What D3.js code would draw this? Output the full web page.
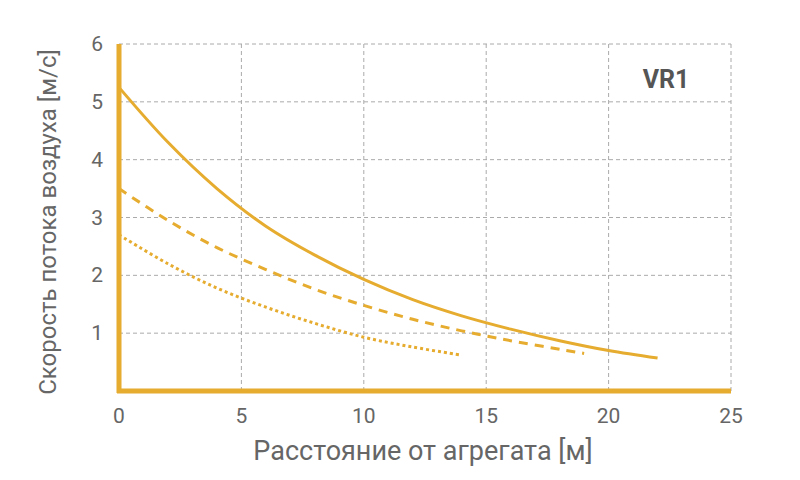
<!DOCTYPE html>
<html><head><meta charset="utf-8">
<script src="https://cdn.jsdelivr.net/npm/d3@7"></script>
<style>body{margin:0;background:#fff}</style>
</head><body>
<svg id="chart" width="800" height="480"></svg>
<script>
var xTicks = [0, 5, 10, 15, 20, 25];
var yTicks = [1, 2, 3, 4, 5, 6];
var solidX = [0, 2, 4, 6, 8, 10, 12, 14, 16, 18, 20, 22];
var solidY = [5.25, 4.3, 3.5, 2.85, 2.35, 1.93, 1.58, 1.3, 1.07, 0.87, 0.7, 0.57];
var dashX = [0, 2, 4, 6, 8, 10, 12, 14, 16, 19];
var dashY = [3.5, 2.95, 2.48, 2.1, 1.76, 1.48, 1.24, 1.04, 0.87, 0.65];
var dotX = [0, 2, 4, 6, 8, 10, 12, 14];
var dotY = [2.7, 2.2, 1.78, 1.45, 1.17, 0.93, 0.76, 0.62];
var color = "#e6ac2f";

var svg = d3.select("#chart");
var x = d3.scaleLinear().domain([0, 25]).range([119, 731]);
var y = d3.scaleLinear().domain([0, 6]).range([391, 44]);

// grid
svg.selectAll(".gx").data(xTicks.slice(1)).enter().append("line")
    .attr("x1", x).attr("x2", x).attr("y1", y(6)).attr("y2", y(0))
    .attr("stroke", "#aaa").attr("stroke-dasharray", "4,3");
svg.selectAll(".gy").data(yTicks).enter().append("line")
    .attr("x1", x(0)).attr("x2", x(25)).attr("y1", y).attr("y2", y)
    .attr("stroke", "#aaa").attr("stroke-dasharray", "4,3");

// tick labels
svg.selectAll(".tx").data(xTicks).enter().append("text")
    .attr("x", x).attr("y", 423).attr("text-anchor", "middle")
    .attr("font-family", "Roboto").attr("font-size", 21).attr("fill", "#666")
    .text(function(d){ return d; });
svg.selectAll(".ty").data(yTicks).enter().append("text")
    .attr("x", 103).attr("y", function(d){ return y(d) + 7; }).attr("text-anchor", "end")
    .attr("font-family", "Roboto").attr("font-size", 21).attr("fill", "#666")
    .text(function(d){ return d; });

var line = d3.line().x(function(d){ return x(d[0]); }).y(function(d){ return y(d[1]); })
    .curve(d3.curveCatmullRom);
function draw(xs, ys, dash){
    svg.append("path").datum(d3.zip(xs, ys)).attr("d", line)
        .attr("fill", "none").attr("stroke", color).attr("stroke-width", 3)
        .attr("stroke-dasharray", dash);
}
draw(solidX, solidY, null);
draw(dashX, dashY, "9,7");
draw(dotX, dotY, "3,3");

// axes
svg.append("line").attr("x1", x(0)).attr("x2", x(0)).attr("y1", y(6)).attr("y2", y(0) + 2)
    .attr("stroke", color).attr("stroke-width", 5);
svg.append("line").attr("x1", x(0) - 2).attr("x2", x(25)).attr("y1", y(0)).attr("y2", y(0))
    .attr("stroke", color).attr("stroke-width", 5);

svg.append("text").attr("x", 423).attr("y", 460).attr("text-anchor", "middle")
    .attr("font-family", "Roboto").attr("font-size", 27).attr("fill", "#666")
    .text("Расстояние от агрегата [м]");
svg.append("text").attr("transform", "translate(56,222) rotate(-90)").attr("text-anchor", "middle")
    .attr("font-family", "Roboto").attr("font-size", 24).attr("fill", "#666")
    .text("Скорость потока воздуха [м/с]");
svg.append("text").attr("x", 666).attr("y", 88).attr("text-anchor", "middle")
    .attr("font-family", "Roboto").attr("font-weight", "bold").attr("font-size", 25).attr("fill", "#555")
    .text("VR1");
</script>
</body></html>
